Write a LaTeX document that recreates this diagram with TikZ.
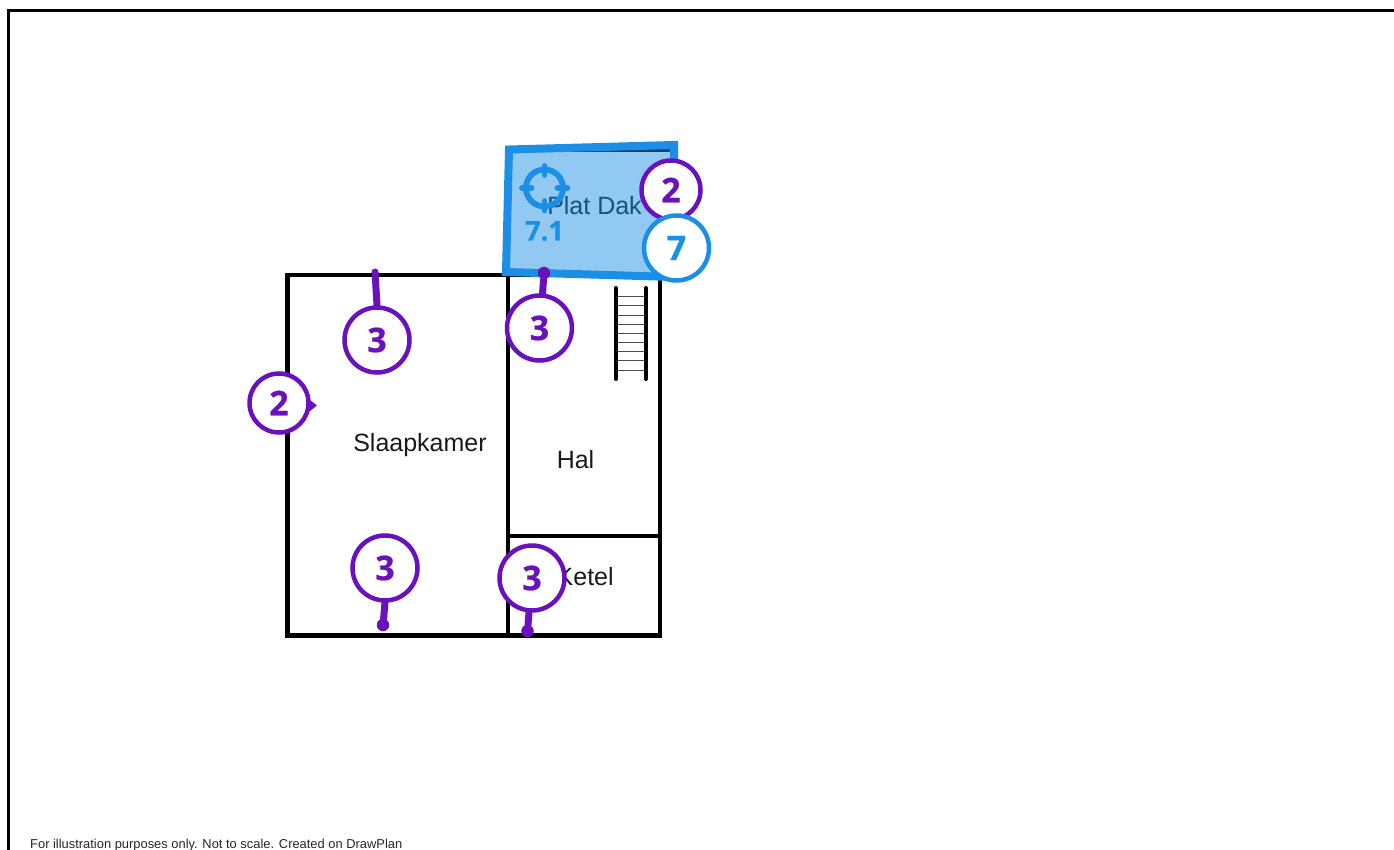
\documentclass[tikz,border=0pt]{standalone}
\usepackage{fontspec}
\setmainfont{Liberation Sans}
\newfontfamily\numfont{Open Sans}[BoldFont={Open Sans Bold},BoldFeatures={FakeBold=0.6}]
\definecolor{pinviolet}{HTML}{6A11BE}
\definecolor{roofblue}{HTML}{1B8EE6}
\tikzset{
  wall/.style={draw=black,line width=4.2pt,line cap=round,line join=miter},
  rung/.style={draw=black!70,line width=1pt},
  rail/.style={draw=black,line width=4pt,line cap=round},
  room/.style={text=black!90,font=\fontsize{25}{29}\selectfont,inner sep=0pt},
  badge/.style={circle,draw=pinviolet,fill=white,line width=4.5pt,inner sep=0pt,minimum size=#1,text=pinviolet,font=\numfont\bfseries\fontsize{34}{38}\selectfont},
  bluebadge/.style={badge=#1,draw=roofblue,text=roofblue},
  stem/.style={draw=pinviolet,line width=7pt,line cap=round},
  pindot/.style={circle,fill=pinviolet,inner sep=0pt,minimum size=12.5pt},
  aim/.style={draw=roofblue,line width=5.8pt,line cap=round}
}
\begin{document}
\begin{tikzpicture}[x=1pt,y=-1pt]
\useasboundingbox (0,0) rectangle (1394,850);
\draw[black,line width=3pt] (8.5,850) -- (8.5,11) -- (1394,11);
% walls
\draw[wall] (287.5,275) rectangle (660,635.5);
\draw[wall] (508,275) -- (508,635.5);
\draw[wall] (508,536) -- (660,536);
% stairs
\foreach \y in {296.7,305.7,315,324,333,342.3,351.3,360.7,370}
  \draw[rung] (615.5,\y) -- (646,\y);
\draw[rail] (615.5,288) -- (615.5,379);
\draw[rail] (646,288) -- (646,379);
% room labels
\node[room,anchor=base] (slaapkamer) at (420,451) {Slaapkamer};
\node[room,anchor=base] (hal) at (575.5,468) {Hal};
\node[room,anchor=base west] (ketel) at (556.5,585) {Ketel};
\node[room,anchor=base] (platdak) at (594.5,215) {Plat Dak};
% flat roof
\draw[wall,line width=3pt] (510,151) -- (670,151);
\fill[roofblue,fill opacity=.48] (509,149.5) -- (674,145) -- (674,277) -- (506,272) -- cycle;
\draw[roofblue,line width=8pt,line join=miter] (509,149.5) -- (674,145) -- (674,277) -- (506,272) -- cycle;
% target
\draw[aim] (544.5,188) circle (18.5);
\draw[aim] (544.5,166) -- (544.5,175);
\draw[aim] (544.5,201) -- (544.5,210.5);
\draw[aim] (522,188) -- (531.5,188);
\draw[aim] (557.5,188) -- (567.5,188);
\node[text=roofblue,font=\numfont\bfseries\fontsize{27}{30}\selectfont,inner sep=0pt,anchor=base] (spot) at (544.5,240.5) {7.1};
% pins
\coordinate (tip1) at (375,272);
\node[pindot] (dot2) at (544,273) {};
\node[pindot] (dot3) at (383,625) {};
\node[pindot] (dot4) at (527.5,631) {};
\node[badge=65pt] (b1) at (377,340) {3};
\node[badge=65pt] (b2) at (539.5,328) {3};
\node[badge=65pt] (b3) at (385,568) {3};
\node[badge=65pt] (b4) at (532,578) {3};
\draw[stem] (b1.north) -- (tip1);
\draw[stem] (b2.85) -- (dot2);
\draw[stem] (b3.south) -- (dot3);
\draw[stem] (b4.265) -- (dot4);
\node[badge=59pt] (b5) at (279,403) {2};
\coordinate (tick) at (317,405.5);
\fill[pinviolet] (310,400) -- (tick) -- (310,411) -- cycle;
\node[badge=59pt] (b6) at (671,190) {2};
\node[bluebadge=65pt] (b7) at (676.5,248) {7};
% footer
\node[anchor=base west,inner sep=0pt,text=black!85,font=\fontsize{12.9}{14}\selectfont] (foot) at (30,848) {For illustration purposes only. Not to scale. Created on DrawPlan};
\end{tikzpicture}
\end{document}
